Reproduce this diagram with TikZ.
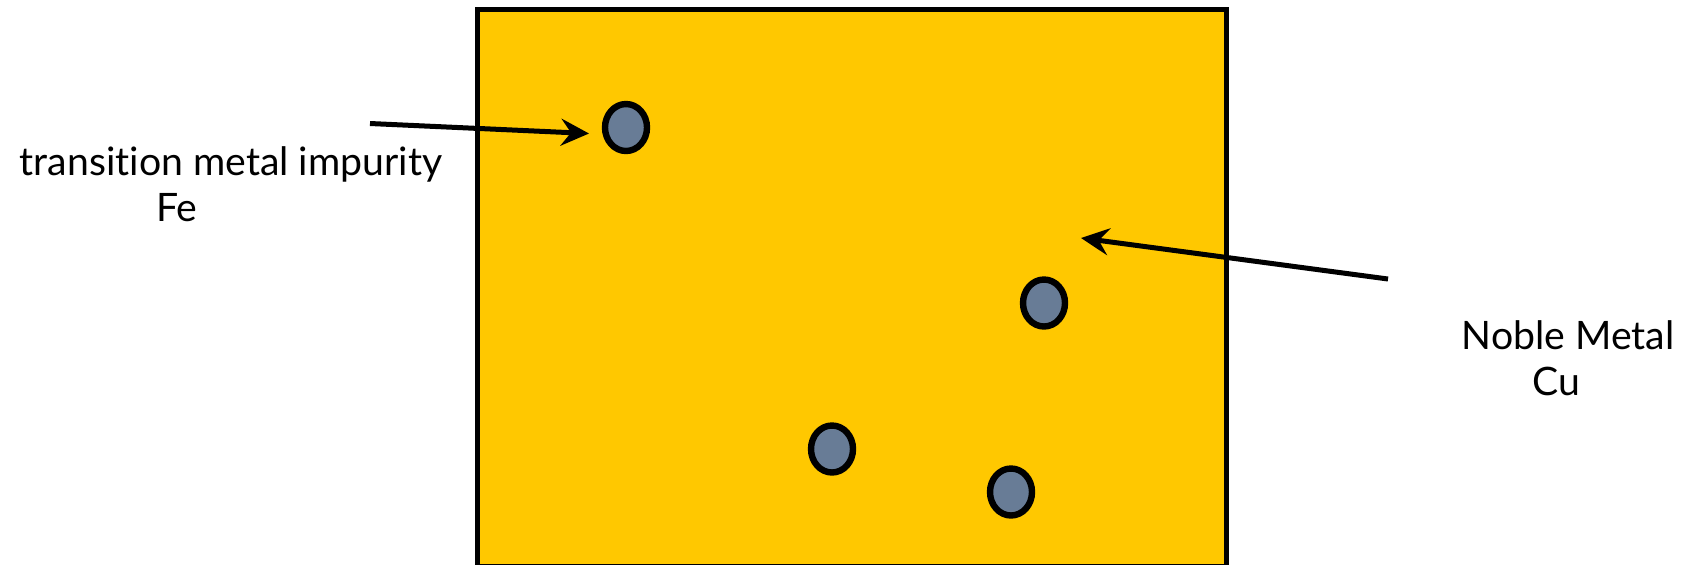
\documentclass[tikz,border=0pt]{standalone}
\usepackage{fontspec}
\setmainfont[Ligatures=NoCommon]{Lato}
\usetikzlibrary{arrows.meta,shapes.geometric}
\definecolor{cuyellow}{RGB}{255,200,0}
\definecolor{feblue}{RGB}{104,124,150}

\begin{document}
\begin{tikzpicture}[
        x=0.5pt, y=-0.5pt,
        font=\fontsize{19.6}{23}\selectfont,
        metal/.style={draw, line width=2.5pt, fill=cuyellow},
        atom/.style={ellipse, draw, line width=3.2pt, fill=feblue, inner sep=0pt, minimum width=21pt, minimum height=23.5pt},
        lbl/.style={align=center, inner sep=0pt},
        arr/.style={-{Stealth[length=14pt, width=13.5pt, inset=5pt]}, line width=2.5pt}
    ]
        \useasboundingbox (0,0) rectangle (1684,564);
        % host crystal
        \draw[metal] (477.5,9.5) rectangle (1226,566);
        % impurities
        \node[atom] (fe1) at (626,127.5) {};
        \node[atom] (fe2) at (1044,303) {};
        \node[atom] (fe3) at (832,449) {};
        \node[atom] (fe4) at (1011,492) {};
        % labels
        \node[lbl] (felbl) at (231,184.5) {transition metal impurity\\Fe\hspace*{54pt}};
        \node[lbl] (culbl) at (1568,358) {Noble Metal\\Cu\hspace*{12pt}};
        \coordinate (fetail) at (370,123.5);
        \coordinate (fetip) at (589,133.5);
        \coordinate (cutail) at (1388,279);
        \coordinate (cutip) at (1081,238);
        \draw[arr] (fetail) -- (fetip);
        \draw[arr] (cutail) -- (cutip);
    \end{tikzpicture}
\end{document}
